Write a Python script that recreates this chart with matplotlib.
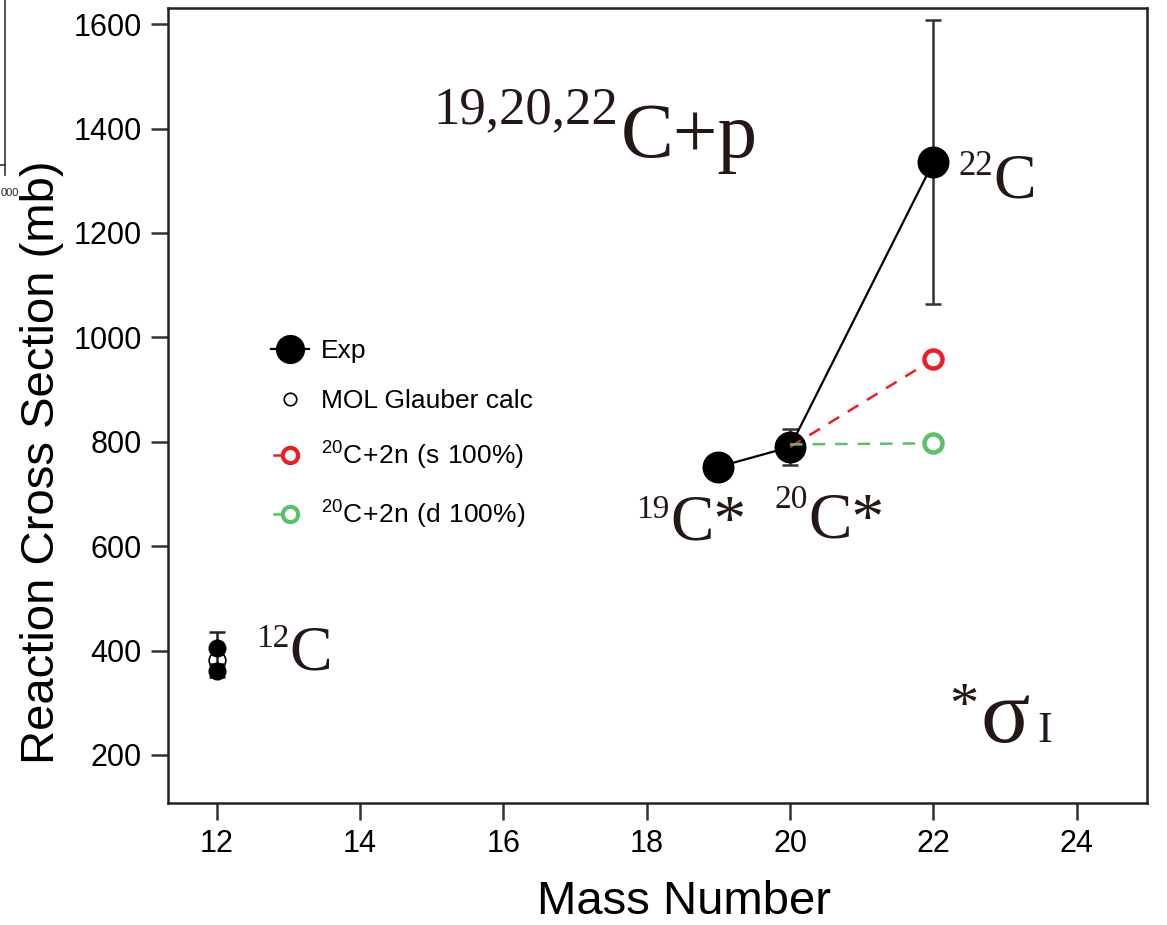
import matplotlib
matplotlib.use("Agg")
import matplotlib.pyplot as plt
from matplotlib.lines import Line2D
from matplotlib.legend_handler import HandlerLine2D

# ---------------- data ----------------
exp_mass = [19, 20, 22]
exp_sigma = [752, 790, 1336]
exp_err = [0, 35, 272]

c12_mass = [12, 12]
c12_sigma = [405, 361]
c12_err = [30, 12]

mol_mass = [12]
mol_sigma = [382]

s_mass = [20, 22]
s_sigma = [790, 958]

d_mass = [20, 22]
d_sigma = [795, 797]

xticks = [12, 14, 16, 18, 20, 22, 24]
yticks = [200, 400, 600, 800, 1000, 1200, 1400, 1600]

W, H = 1167, 925
plt.rcParams['font.family'] = ['Liberation Sans', 'DejaVu Sans']

fig = plt.figure(figsize=(W / 100, H / 100), dpi=100)
ax = fig.add_axes([168 / W, 1 - 803 / H, (1147 - 168) / W, (803 - 8) / H])

RED = '#e8202a'
GREEN = '#5cbf6a'

# MOL Glauber open circle for 12C
ax.plot(mol_mass, mol_sigma, 'o', ms=12, mfc='white', mec='black', mew=1.2, zorder=2)

# 12C experimental points
ax.errorbar(c12_mass, c12_sigma, yerr=c12_err, fmt='o', ms=12, color='black',
            ecolor='#222222', elinewidth=1.8, capsize=6, capthick=1.8, zorder=3)

# Exp series 19, 20, 22
ax.errorbar(exp_mass, exp_sigma, yerr=exp_err, fmt='-o', ms=22, color='black', lw=1.6,
            ecolor='#333333', elinewidth=1.8, capsize=6, capthick=1.8, zorder=3)

# 20C+2n models
ax.plot(s_mass, s_sigma, ls=(0, (5, 4)), color=RED, lw=1.8, marker='o', markevery=[1],
        ms=13, mfc='white', mec=RED, mew=3.2, zorder=4)
ax.plot(d_mass, d_sigma, ls=(0, (5, 4)), color=GREEN, lw=1.8, marker='o', markevery=[1],
        ms=13, mfc='white', mec=GREEN, mew=3.2, zorder=4)

ax.set_xlim(11.32, 24.98)
ax.set_ylim(108, 1631)
ax.set_xticks(xticks)
ax.set_yticks(yticks)
ax.tick_params(direction='out', length=12, width=1.8, color='#333333',
               labelsize=22, pad=7)
for sp in ax.spines.values():
    sp.set_linewidth(1.8)
    sp.set_color('#222222')

ax.set_xlabel('Mass Number', fontsize=34)
ax.xaxis.set_label_coords((684 - 168) / 979, -0.097)
ax.set_ylabel('Reaction Cross Section (mb)', fontsize=34)
ax.yaxis.set_label_coords(-0.106, (803 - 462) / 795)


class HandlerLeftLine(HandlerLine2D):
    """Line drawn only on the left half, marker in the centre."""
    def create_artists(self, legend, orig_handle, xdescent, ydescent, width,
                       height, fontsize, trans):
        arts = super().create_artists(legend, orig_handle, xdescent, ydescent,
                                      width, height, fontsize, trans)
        line = arts[0]
        xd = list(line.get_xdata())
        yd = list(line.get_ydata())
        line.set_data([xd[0] + 2, xd[1]], [yd[0], yd[1]])
        line.set_markevery([1])
        return arts


# legend
h_exp = Line2D([], [], color='black', lw=1.6, marker='o', ms=20)
h_mol = Line2D([], [], ls='none', marker='o', ms=9, mfc='white', mec='black', mew=1.2)
h_s = Line2D([], [], color=RED, lw=1.8, ls='-', marker='o', ms=11, mfc='white', mec=RED, mew=3)
h_d = Line2D([], [], color=GREEN, lw=1.8, ls='-', marker='o', ms=11, mfc='white', mec=GREEN, mew=3)
handles = [h_exp, h_mol, h_s, h_d]
labels = ['Exp', 'MOL Glauber calc',
          r'$\mathregular{^{20}C\!+\!2n\ (s\ 100\%)}$',
          r'$\mathregular{^{20}C\!+\!2n\ (d\ 100\%)}$']
ax.legend(handles, labels, loc='upper left', bbox_to_anchor=((271 - 168) / 979, (803 - 339) / 795),
          frameon=False, fontsize=19, handlelength=1.45, handletextpad=0.45,
          labelspacing=1.0, borderpad=0, borderaxespad=0, numpoints=1,
          handler_map={h_s: HandlerLeftLine(), h_d: HandlerLeftLine()})

# ---------------- annotations ----------------
SERIF = ['Liberation Serif', 'DejaVu Serif']
TXT = '#231815'


def put(px, py, s, size):
    fig.text(px / W, 1 - py / H, s, fontsize=size, family=SERIF, color=TXT,
             ha='left', va='baseline')


put(433, 123, '19,20,22', 38)
put(621, 157, 'C+p', 57)

put(958, 175, '22', 25)
put(993, 197, 'C', 46)

put(636, 518, '19', 24)
put(670, 540, 'C*', 47)

put(775, 508, '20', 24)
put(808, 538, 'C*', 47)

put(256, 647, '12', 24)
put(289, 670, 'C', 46)

put(949, 722, '*', 42)
put(980, 742, 'σ', 66)
put(1037, 742, 'I', 32)

# cropped neighbouring-figure fragment at top-left
fig.add_artist(Line2D([5 / W, 5 / W], [1.0, 1 - 175 / H], color='#333333', lw=1.2))
fig.add_artist(Line2D([0, 5 / W], [1 - 165 / H, 1 - 165 / H], color='#333333', lw=1.2))
fig.text(1 / W, 1 - 196 / H, '000', fontsize=8, ha='left', va='baseline', color='#222222')

fig.savefig('out.png', dpi=100)
